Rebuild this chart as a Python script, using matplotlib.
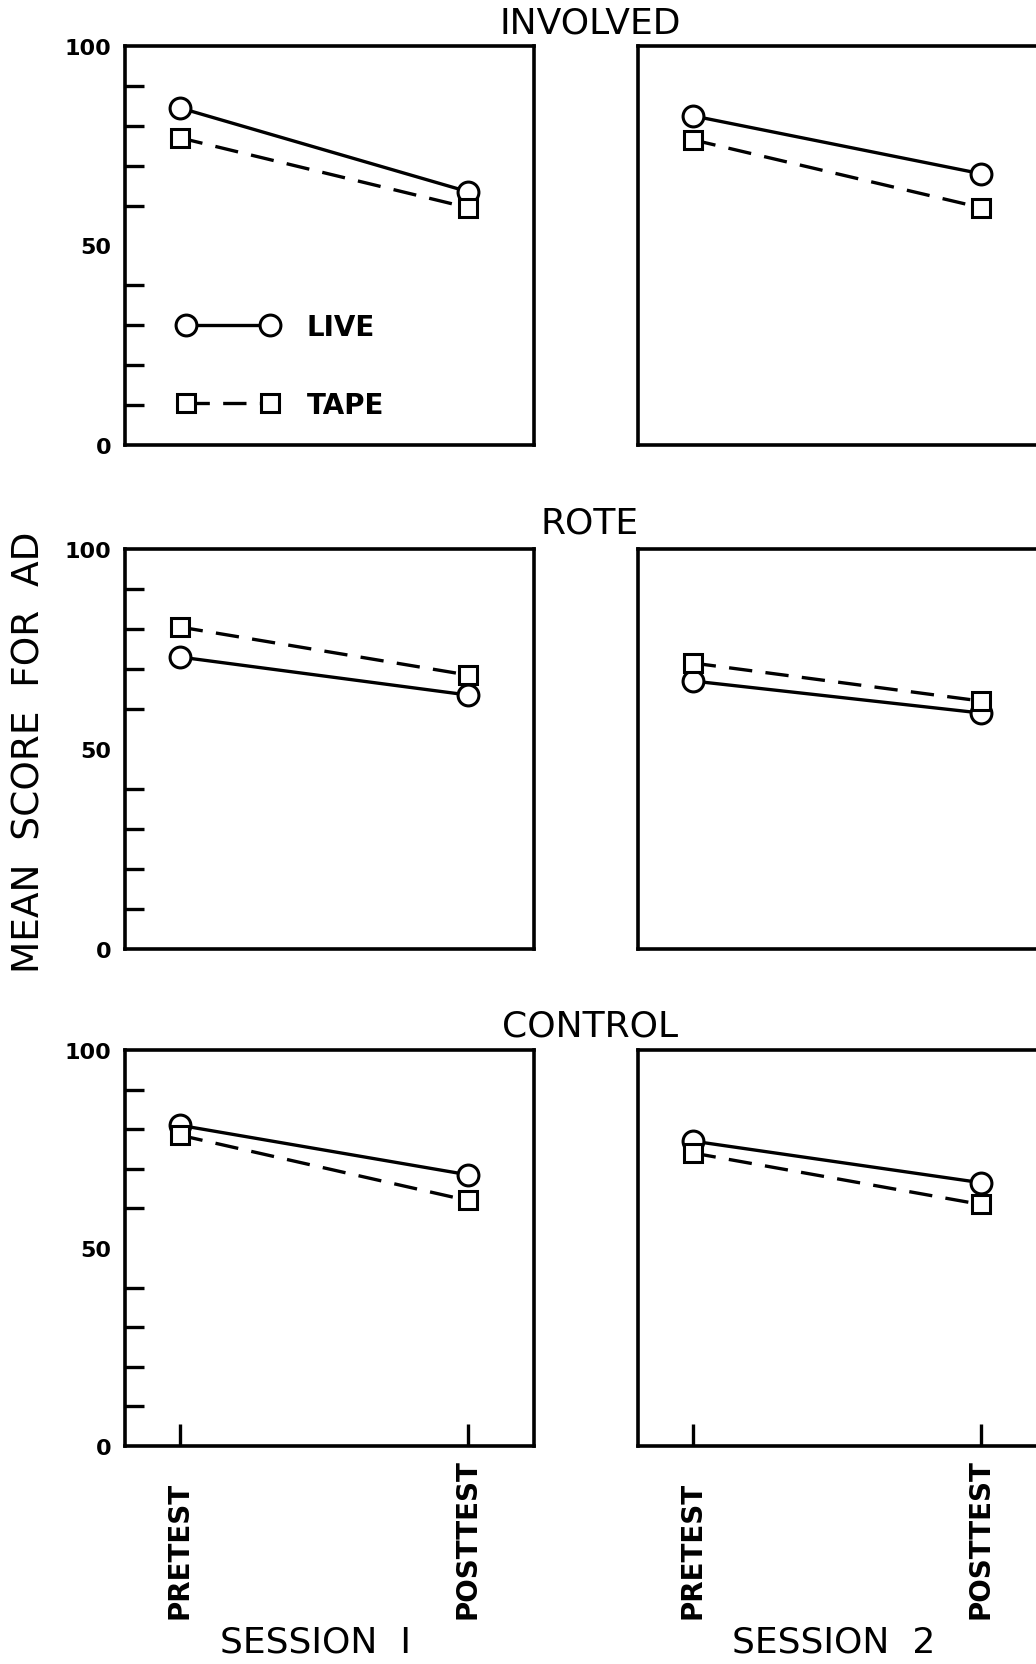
import matplotlib
matplotlib.use("Agg")
import matplotlib.pyplot as plt

# data: mean score for AD, [pretest, posttest]
conditions = ["INVOLVED", "ROTE", "CONTROL"]
sessions = ["SESSION  I", "SESSION  2"]
phases = ["PRETEST", "POSTTEST"]

live_s1 = [[84.5, 63.5], [73.0, 63.5], [81.0, 68.5]]
tape_s1 = [[77.0, 59.5], [80.5, 68.5], [78.5, 62.0]]
live_s2 = [[82.5, 68.0], [67.0, 59.0], [77.0, 66.5]]
tape_s2 = [[76.5, 59.5], [71.5, 62.0], [74.0, 61.0]]

live = [live_s1, live_s2]
tape = [tape_s1, tape_s2]

plt.rcParams['font.family'] = ['DejaVu Sans']

W, H = 1036, 1665
fig = plt.figure(figsize=(W / 100, H / 100), dpi=100)

# panel boxes in pixels: (left, top, right, bottom)
col_x = [(125, 534), (638, 1047)]
row_y = [(47, 446), (550, 950), (1051, 1447)]
title_y = [23, 524, 1027]
session_x = [316, 834]

lw = 2.4
for r in range(3):
    for c in range(2):
        x0, x1 = col_x[c]
        y0, y1 = row_y[r]
        ax = fig.add_axes([x0 / W, 1 - y1 / H, (x1 - x0) / W, (y1 - y0) / H])
        xs = list(range(len(phases)))
        ax.plot(xs, live[c][r], '-', color='black', lw=lw, marker='o', ms=15,
                mfc='white', mec='black', mew=2.2, label='LIVE', zorder=3)
        ax.plot(xs, tape[c][r], '--', dashes=(7, 4), color='black', lw=lw,
                marker='s', ms=13.5, mfc='white', mec='black', mew=2.2,
                label='TAPE', zorder=3)
        ax.set_xlim(-0.19, 1.23)
        ax.set_ylim(0, 100)
        for s in ax.spines.values():
            s.set_linewidth(2.6)
        if c == 0:
            ax.set_yticks([0, 50, 100])
            ax.set_yticklabels(['0', '50', '100'], fontsize=16, fontweight='bold')
            ax.set_yticks([10, 20, 30, 40, 60, 70, 80, 90, 50], minor=True)
            ax.tick_params(axis='y', which='minor', direction='in', length=14,
                           width=2.4)
            ax.tick_params(axis='y', which='major', length=0, pad=10)
        else:
            ax.set_yticks([])
        if r == 2:
            ax.set_xticks(xs)
            ax.set_xticklabels([])
            ax.tick_params(axis='x', direction='in', length=16, width=2.4)
            for x, lab in zip(xs, phases):
                ax.text(x, -0.434, lab, transform=ax.get_xaxis_transform(),
                        rotation=90, ha='center', va='bottom', fontsize=20,
                        fontweight='bold')
        else:
            ax.set_xticks([])
        if r == 0 and c == 0:
            ax.legend(numpoints=2, handlelength=3.65, frameon=False,
                      loc='lower left', bbox_to_anchor=(0.067, 0.002),
                      labelspacing=1.8, handletextpad=1.0,
                      prop={'size': 20, 'weight': 'bold'})
    fig.text(590 / W, 1 - title_y[r] / H, conditions[r], fontsize=26,
             ha='center', va='center')

for c in range(2):
    fig.text(session_x[c] / W, 1 - 1643 / H, sessions[c], fontsize=26,
             ha='center', va='center')

fig.text(30 / W, 1 - 752 / H, "MEAN  SCORE  FOR  AD", rotation=90, fontsize=27,
         ha='center', va='center')

fig.savefig("out.png", dpi=100)
